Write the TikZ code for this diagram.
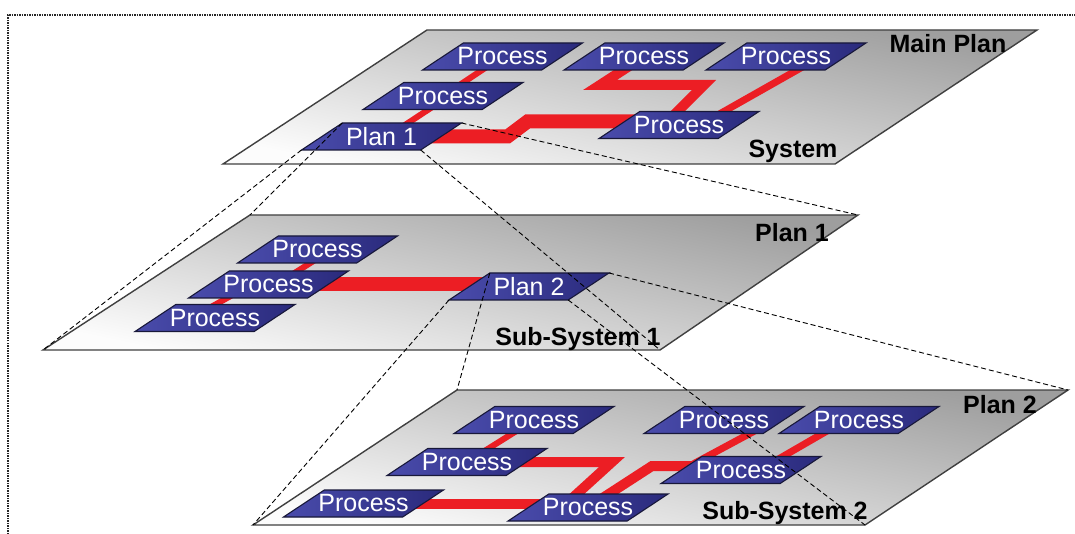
\documentclass[tikz,border=0pt]{standalone}
\usepackage{fontspec}
\setmainfont{Liberation Sans}
\usetikzlibrary{calc}
\definecolor{boxL}{RGB}{74,76,172}
\definecolor{boxR}{RGB}{42,42,124}
\definecolor{boxD}{RGB}{24,24,58}
\definecolor{linkred}{RGB}{236,30,36}
\definecolor{edgegray}{RGB}{64,64,64}
\definecolor{planeD}{RGB}{158,158,158}
\definecolor{planeL}{RGB}{252,252,252}
\tikzset{
  planeshape/.style={draw=edgegray, line width=1.4pt, line join=miter, top color=planeD, bottom color=planeL, shading angle=-12},
  boxshape/.style={draw=boxD, line width=1.1pt, line join=miter, left color=boxL, right color=boxR},
  boxtext/.style={text=white, font=\fontsize{25}{30}\selectfont, inner sep=0pt},
  labeltext/.style={font=\bfseries\fontsize{25}{30}\selectfont, inner sep=0pt, anchor=base},
  thinlink/.style={draw=linkred, line width=6pt},
  widelink/.style={draw=linkred, line width=10pt, line join=miter},
  bandlink/.style={draw=linkred, line width=14pt, line join=miter},
  projection/.style={draw=black, line width=0.9pt, dash pattern=on 5pt off 3pt},
  framedots/.style={draw=black!85, line width=1.3pt, dash pattern=on 1.5pt off 1pt},
}
% name, cx, cy, text
\newcommand{\procbox}[4]{%
  \shadedraw[boxshape] (#2-80,#3+13.5) -- (#2+39.2,#3+13.5) -- (#2+80,#3-13.5) -- (#2-39.2,#3-13.5) -- cycle;
  \coordinate (#1-bl) at (#2-80,#3+13.5);
  \coordinate (#1-br) at (#2+39.2,#3+13.5);
  \coordinate (#1-tr) at (#2+80,#3-13.5);
  \coordinate (#1-tl) at (#2-39.2,#3-13.5);
  \node[boxtext] (#1) at (#2,#3) {#4};
}
\begin{document}
\begin{tikzpicture}[x=1pt,y=-1pt]
\useasboundingbox (0,0) rectangle (1075,534);
\draw[framedots] (8,534) -- (8,15) -- (1075,15);

% planes
\coordinate (T-bl) at (223,164); \coordinate (T-br) at (835,164);
\coordinate (T-tr) at (1037,30); \coordinate (T-tl) at (427,30);
\coordinate (M-bl) at (43,350);  \coordinate (M-br) at (660,350);
\coordinate (M-tr) at (858,215); \coordinate (M-tl) at (250,215);
\coordinate (B-bl) at (253,525); \coordinate (B-br) at (865,525);
\coordinate (B-tr) at (1068,390); \coordinate (B-tl) at (457,390);
\shadedraw[planeshape] (T-bl) -- (T-br) -- (T-tr) -- (T-tl) -- cycle;
\shadedraw[planeshape] (M-bl) -- (M-br) -- (M-tr) -- (M-tl) -- cycle;
\shadedraw[planeshape] (B-bl) -- (B-br) -- (B-tr) -- (B-tl) -- cycle;

% node centres (for links drawn beneath boxes)
\coordinate (P1) at (502.5,56.5);
\coordinate (P2) at (644,56.5);
\coordinate (P3) at (786,56.5);
\coordinate (P4) at (443,96);
\coordinate (Plan1c) at (381.5,136.5);
\coordinate (P5) at (679,125);
\coordinate (Q1) at (317.5,249.5);
\coordinate (Q2) at (268.5,284.5);
\coordinate (Q3) at (215,318);
\coordinate (Plan2c) at (529,286.5);
\coordinate (R1) at (534,420);
\coordinate (R2) at (467,462);
\coordinate (R3) at (363.5,503.5);
\coordinate (R4) at (588,507.5);
\coordinate (R5) at (724,420);
\coordinate (R6) at (859,420);
\coordinate (R7) at (741,470);

% red links, top plane
\draw[thinlink] (P1) -- (P4);
\draw[thinlink] ($(P4)+(6,0)$) -- ($(Plan1c)+(6,0)$);
\draw[bandlink] (Plan1c) -- ($(Plan1c)+(126,0)$) -- ($(Plan1c)+(146,-15)$) -- ($(P5)+(0,-3.5)$);
\draw[widelink] (P2) -- ($(P2)+(-44,28.5)$) -- ($(P2)+(60,28.5)$) -- ($(P5)+(-15,0)$);
\draw[thinlink, line width=7pt] ($(P3)+(35,0)$) -- ($(P5)+(21,0)$);
% red links, middle plane
\draw[thinlink] ($(Q1)+(14,0)$) -- ($(Q2)+(8,0)$);
\draw[thinlink] ($(Q2)+(-17.5,0)$) -- ($(Q3)+(-23.4,0)$);
\draw[bandlink] (Q2) -- (Q2 -| Plan2c);
% red links, bottom plane
\draw[thinlink] (R1) -- (R2);
\draw[widelink] (R2) -- ($(R2)+(145,0)$) -- ($(R4)+(-26,0)$);
\draw[widelink] (R3) -- (R3 -| R4);
\draw[widelink] (R4) -- ($(R7)+(-89,-4)$) -- ($(R7)+(0,-4)$);
\draw[thinlink, line width=7pt] ($(R5)+(51,0)$) -- ($(R7)+(-59,0)$);
\draw[thinlink, line width=7pt] ($(R6)+(-13,0)$) -- ($(R7)+(18.5,0)$);

% boxes
\procbox{p1}{502.5}{56.5}{Process}
\procbox{p2}{644}{56.5}{Process}
\procbox{p3}{786}{56.5}{Process}
\procbox{p4}{443}{96}{Process}
\procbox{plan1}{381.5}{136.5}{Plan 1}
\procbox{p5}{679}{125}{Process}
\procbox{q1}{317.5}{249.5}{Process}
\procbox{q2}{268.5}{284.5}{Process}
\procbox{q3}{215}{318}{Process}
\procbox{plan2}{529}{286.5}{Plan 2}
\procbox{r1}{534}{420}{Process}
\procbox{r2}{467}{462}{Process}
\procbox{r3}{363.5}{503.5}{Process}
\procbox{r4}{588}{507.5}{Process}
\procbox{r5}{724}{420}{Process}
\procbox{r6}{859}{420}{Process}
\procbox{r7}{741}{470}{Process}

% plane labels
\node[labeltext] (lmain) at (948,53) {Main Plan};
\node[labeltext] (lsys) at (793,158) {System};
\node[labeltext] (lplan1) at (792,242) {Plan 1};
\node[labeltext] (lsub1) at (578,345) {Sub-System 1};
\node[labeltext] (lplan2) at (1000,413) {Plan 2};
\node[labeltext] (lsub2) at (785,519) {Sub-System 2};

% projection lines
\draw[projection] (plan1-bl) -- (M-bl);
\draw[projection] (plan1-tl) -- (M-tl);
\draw[projection] (plan1-tr) -- (M-tr);
\draw[projection] (plan1-br) -- (M-br);
\draw[projection] (plan2-bl) -- (B-bl);
\draw[projection] (plan2-tl) -- (B-tl);
\draw[projection] (plan2-tr) -- (B-tr);
\draw[projection] (plan2-br) -- (B-br);
\end{tikzpicture}
\end{document}
